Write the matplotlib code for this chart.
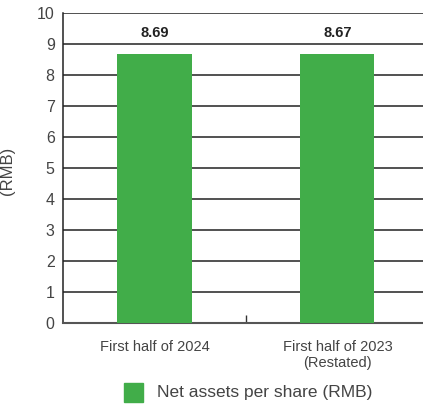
import matplotlib
matplotlib.use("Agg")
import matplotlib.pyplot as plt
import numpy as np

# data
categories = ["First half of 2024", "First half of 2023\n(Restated)"]
values = [8.69, 8.67]
value_labels = ["8.69", "8.67"]
series_name = "Net assets per share (RMB)"
y_ticks = list(range(0, 11))

green = "#41ad49"
text_gray = "#444444"

plt.rcParams['font.family'] = ['Liberation Sans', 'DejaVu Sans']

fig = plt.figure(figsize=(4.23, 4.04), dpi=100)
ax = fig.add_axes([0.149, 0.2005, 0.865, 0.7675])

x = np.arange(len(categories))
ax.bar(x, values, width=0.405, color=green, zorder=3)

for xi, v, lab in zip(x, values, value_labels):
    ax.text(xi, 9.35, lab, ha="center", va="center", fontsize=10.5,
            fontweight="bold", color="#222222")

ax.set_xlim(-0.5, 1.5)
ax.set_ylim(0, 10)
ax.set_yticks(y_ticks)
ax.set_yticklabels([str(t) for t in y_ticks], fontsize=11.5, color=text_gray)
ax.yaxis.grid(True, color="#222222", linewidth=1.1, zorder=1)
ax.set_axisbelow(True)
ax.tick_params(axis="y", length=0, pad=6)

# x: one small inward tick between the groups, labels without ticks
ax.set_xticks([0.5])
ax.set_xticklabels([""])
ax.tick_params(axis="x", direction="in", length=6, width=1, color="#333333")
for xi, cat in zip(x, categories):
    ax.text(xi, -0.55, cat, ha="center", va="top", fontsize=10.5,
            color=text_gray, linespacing=1.2)

for side in ["top", "right"]:
    ax.spines[side].set_visible(False)
ax.spines["left"].set_color("#222222")
ax.spines["bottom"].set_color("#555555")
ax.spines["left"].set_linewidth(1.1)
ax.spines["bottom"].set_linewidth(1.5)

ax.set_ylabel("(RMB)", fontsize=12, color=text_gray)
ax.yaxis.set_label_coords(-0.131, 0.49)

fig.patches.append(plt.Rectangle((124 / 423, 1 - 402 / 404), 19 / 423, 19 / 404,
                                 transform=fig.transFigure, color=green))
fig.text(157 / 423, 1 - 392 / 404, series_name, ha="left", va="center",
         fontsize=12.5, color=text_gray)

fig.savefig("out.png", dpi=100)
